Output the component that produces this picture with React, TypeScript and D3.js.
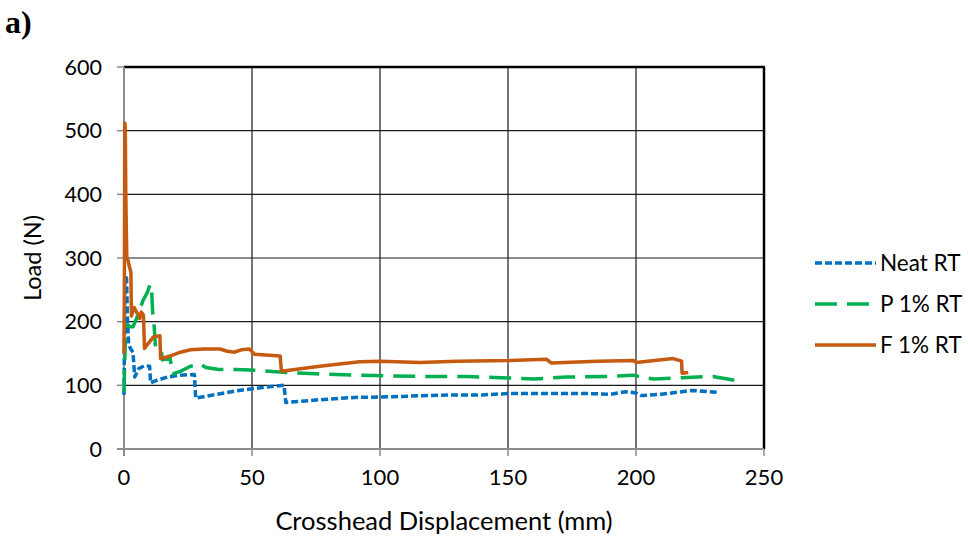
import React from "react";
import * as d3 from "d3";

type Pt = [number, number];

const seriesNames = ["Neat RT", "P 1% RT", "F 1% RT"];

const neatRT: Pt[] = [
  [0, 85], [0.4, 272], [1.0, 268], [1.3, 210], [1.8, 165], [2.5, 158], [3.5, 152],
  [4.2, 113], [5.7, 126], [8, 131], [10, 130], [10.4, 104], [13, 108], [17, 113],
  [22, 116], [27.5, 117], [28, 80], [35, 85], [45, 92], [55, 97], [62.5, 100],
  [63.2, 73], [75, 77], [90, 81], [105, 82], [115, 83.5], [130, 85], [140, 85],
  [150, 87], [165, 87], [182, 87], [190, 86], [196, 90], [200, 88], [202, 84],
  [210, 86], [222, 92], [231.5, 89],
];

const p1RT: Pt[] = [
  [0, 90], [0.6, 185], [1.3, 195], [2.5, 192], [3.5, 192], [4.8, 204], [7.4, 233],
  [9, 245], [10.3, 259], [10.8, 250], [11.2, 215], [11.8, 192], [12.3, 160],
  [14.5, 158], [15, 140], [18, 143], [19, 118], [22, 122], [26, 130], [29.5, 134],
  [32, 128], [37, 125], [44, 125], [54, 123], [63.5, 120], [75, 118], [89.6, 116],
  [115, 114], [134, 114], [147, 112], [160, 110], [173, 113], [190, 114], [199, 116],
  [203, 112], [207, 110], [218, 112], [230, 114], [238, 108.5], [240, 107],
];

const f1RT: Pt[] = [
  [0, 150], [0.15, 250], [0.3, 512], [0.5, 505], [0.7, 400], [0.9, 345], [1.1, 300],
  [1.6, 296], [2.2, 285], [2.7, 278], [2.9, 209], [3.4, 216], [4.0, 222], [5.0, 214],
  [5.6, 212], [6.1, 205], [6.8, 215], [7.6, 210], [8.0, 158], [9.5, 166], [11.5, 176],
  [14.0, 178], [14.3, 142], [18, 146], [22, 152], [26, 156], [31, 157], [37.5, 157],
  [40, 154], [43, 152], [46, 156], [49, 157], [51, 149], [61, 146], [61.5, 122],
  [76.5, 130], [92, 137], [100, 138], [115.6, 136], [130, 138], [150.8, 139],
  [165, 141], [167, 135], [185, 138], [199, 139], [200, 136], [214.5, 142],
  [217.8, 138], [218, 119], [220.4, 120],
];

const xTicks = [0, 50, 100, 150, 200, 250];
const yTicks = [0, 100, 200, 300, 400, 500, 600];

const colors = ["#0070C0", "#00B050", "#C55A11"];
const dashes = ["7 3", "22 10", ""];

export default function App() {
  const W = 968, H = 542;
  const left = 124, right = 764, top = 67, bottom = 449;
  const x = d3.scaleLinear().domain([0, 250]).range([left, right]);
  const y = d3.scaleLinear().domain([0, 600]).range([bottom, top]);
  const line = d3.line<Pt>().x(d => x(d[0])).y(d => y(d[1]));
  const data = [neatRT, p1RT, f1RT];
  const font = "Lato, 'Liberation Sans', sans-serif";
  const legY = [263, 304, 345];

  return (
    <svg width={W} height={H} style={{ position: "absolute", left: 0, top: 0, background: "#fff" }}>
      <rect width={W} height={H} fill="#fff" />
      <text x={5} y={33} fontFamily="'Liberation Serif', serif" fontWeight="bold" fontSize={32}>a)</text>
      {/* grid */}
      {yTicks.filter(t => t > 0).map(t => (
        <line key={"gy" + t} x1={left} x2={right} y1={y(t)} y2={y(t)} stroke="#1a1a1a" strokeWidth={1.2} />
      ))}
      {xTicks.filter(t => t > 0).map(t => (
        <line key={"gx" + t} x1={x(t)} x2={x(t)} y1={top} y2={bottom} stroke="#1a1a1a" strokeWidth={1.2} />
      ))}
      {/* border top/right */}
      <line x1={left} x2={right + 1} y1={top} y2={top} stroke="#000" strokeWidth={2.5} />
      <line x1={right} x2={right} y1={top} y2={bottom} stroke="#000" strokeWidth={2.5} />
      {/* axes */}
      <line x1={left} x2={left} y1={top} y2={bottom + 7} stroke="#8c8c8c" strokeWidth={2} />
      <line x1={left - 7} x2={right} y1={bottom} y2={bottom} stroke="#8c8c8c" strokeWidth={2} />
      {yTicks.map(t => (
        <line key={"ty" + t} x1={left - 7} x2={left} y1={y(t)} y2={y(t)} stroke="#8c8c8c" strokeWidth={1.5} />
      ))}
      {xTicks.map(t => (
        <line key={"tx" + t} x1={x(t)} x2={x(t)} y1={bottom} y2={bottom + 7} stroke="#8c8c8c" strokeWidth={1.5} />
      ))}
      {/* series */}
      {data.map((d, i) => (
        <path key={"s" + i} d={line(d) || ""} fill="none" stroke={colors[i]} strokeWidth={3.5}
          strokeDasharray={dashes[i] || undefined} strokeLinejoin="round" />
      ))}
      {/* tick labels */}
      {yTicks.map(t => (
        <text key={"ly" + t} x={102} y={y(t)} dy="0.36em" textAnchor="end" fontFamily={font} fontSize={21.5} fill="#000">{t}</text>
      ))}
      {xTicks.map(t => (
        <text key={"lx" + t} x={x(t)} y={477} dy="0.36em" textAnchor="middle" fontFamily={font} fontSize={22} fill="#000">{t}</text>
      ))}
      <text x={(left + right) / 2} y={521} dy="0.36em" textAnchor="middle" fontFamily={font} fontSize={25.5} fill="#000">Crosshead Displacement (mm)</text>
      <text transform={`translate(33,258) rotate(-90)`} dy="0.36em" textAnchor="middle" fontFamily={font} fontSize={23.5} fill="#000">Load (N)</text>
      {/* legend */}
      {seriesNames.map((n, i) => (
        <g key={"lg" + i}>
          <line x1={815} x2={876} y1={legY[i]} y2={legY[i]} stroke={colors[i]} strokeWidth={3.5}
            strokeDasharray={dashes[i] || undefined} />
          <text x={880} y={legY[i]} dy="0.36em" fontFamily={font} fontSize={22.5} fill="#000">{n}</text>
        </g>
      ))}
    </svg>
  );
}
